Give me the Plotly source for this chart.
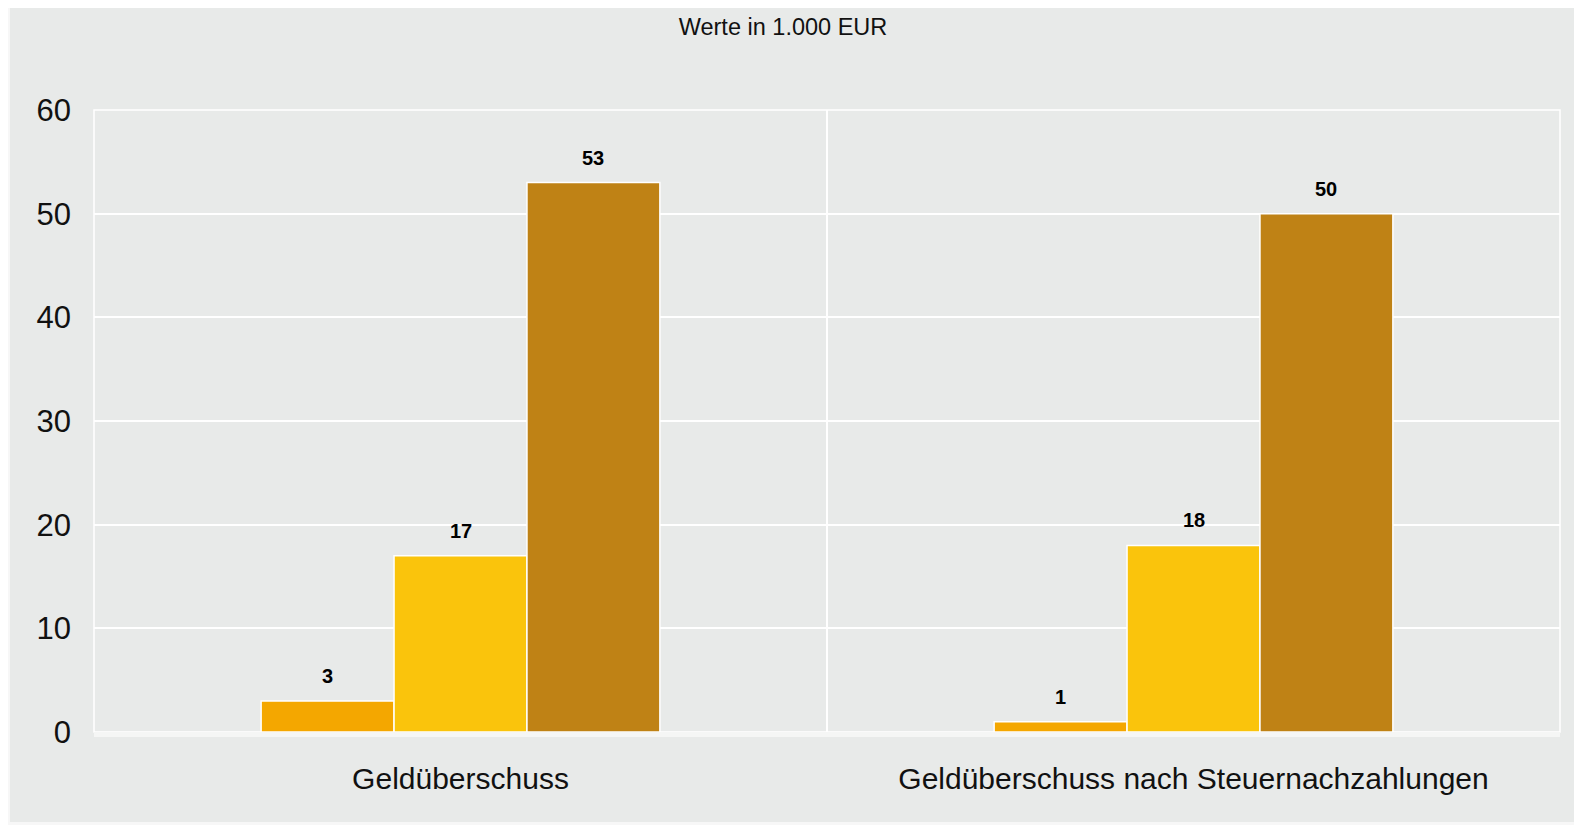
import plotly.graph_objects as go

# Werte in 1.000 EUR
kategorien = ["Geldüberschuss", "Geldüberschuss nach Steuernachzahlungen"]
reihe_1 = [3, 1]
reihe_2 = [17, 18]
reihe_3 = [53, 50]
reihen = ["Reihe 1", "Reihe 2", "Reihe 3"]
y_ticks = [0, 10, 20, 30, 40, 50, 60]

farben = ["#F4A700", "#FAC40C", "#BF8215"]
grau = "#E8EAE9"
rand = "#F7F7F7"

# die Seite hat 8px Rand im Browser, deshalb etwas kleiner
W, H = 1574, 817
ml, mr, mt, mb = 86, 22, 102, 93
bargap = 0.456

fig = go.Figure()
for name, werte, farbe in zip(reihen, [reihe_1, reihe_2, reihe_3], farben):
    fig.add_trace(go.Bar(
        name=name, x=kategorien, y=werte,
        marker=dict(color=farbe, line=dict(color="white", width=1.5)),
    ))

# Werte über den Balken
bw = (1 - bargap) / 3
for j, werte in enumerate([reihe_1, reihe_2, reihe_3]):
    for i, v in enumerate(werte):
        fig.add_annotation(
            x=i + (j - 1) * bw, y=v, xref="x", yref="y",
            text="<b>%d</b>" % v, showarrow=False,
            yanchor="bottom", yshift=12,
            font=dict(family="Liberation Sans, Arial", size=20, color="#000000"),
        )

pw, ph = W - ml - mr, H - mt - mb
# graue Fläche mit hellem Rand
fig.add_shape(
    type="rect", xref="paper", yref="paper", layer="below",
    x0=(2 - ml) / pw, x1=(W + 5 - ml) / pw,
    y0=(H - mb - 814) / ph, y1=(H - mb + 5) / ph,
    fillcolor=grau, line=dict(width=0),
)
# weißer Rahmen um die Zeichenfläche
fig.add_shape(
    type="rect", xref="paper", yref="paper", layer="below",
    x0=0, x1=1, y0=0, y1=1,
    line=dict(color="white", width=1.5),
)

fig.update_layout(
    width=W, height=H,
    margin=dict(l=ml, r=mr, t=mt, b=mb),
    paper_bgcolor=rand, plot_bgcolor=grau,
    barmode="group", bargap=bargap, bargroupgap=0,
    showlegend=False,
    font=dict(family="Liberation Sans, Arial", color="#111111"),
    title=dict(text="Werte in 1.000 EUR", x=775 / W, xanchor="center",
               y=1 - 19 / H, yanchor="middle",
               font=dict(size=23.5, color="#111111")),
)
fig.update_xaxes(
    type="category", tickson="boundaries",
    showgrid=True, gridcolor="white", gridwidth=1.5,
    showline=True, linecolor="#F5F6F5", linewidth=5,
    ticks="", ticklabelstandoff=16,
    tickfont=dict(size=30),
)
fig.update_yaxes(
    range=[0, 60], tickvals=y_ticks,
    showgrid=True, gridcolor="white", gridwidth=1.5,
    zeroline=False, showline=False,
    ticks="", ticklabelstandoff=22,
    tickfont=dict(size=31),
)

fig.write_html("out.html")
